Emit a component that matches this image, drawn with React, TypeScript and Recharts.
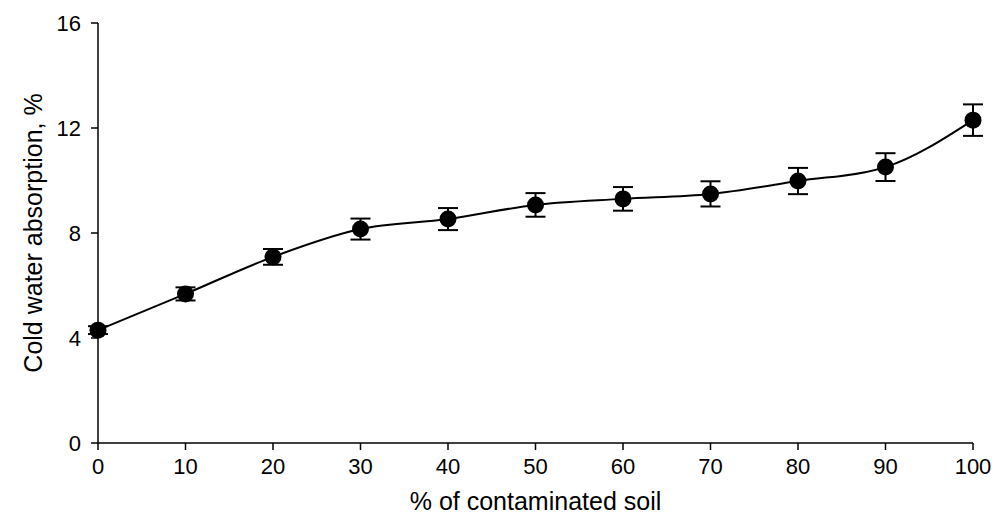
import React from 'react';
import { LineChart, Line, XAxis, YAxis, ErrorBar } from 'recharts';

const soilShare = [0, 10, 20, 30, 40, 50, 60, 70, 80, 90, 100];
const absorption = [4.3, 5.68, 7.09, 8.15, 8.53, 9.07, 9.3, 9.49, 9.98, 10.51, 12.3];
const errors = [0.15, 0.25, 0.3, 0.4, 0.42, 0.45, 0.45, 0.48, 0.5, 0.53, 0.6];
const xTicks = [0, 10, 20, 30, 40, 50, 60, 70, 80, 90, 100];
const yTicks = [0, 4, 8, 12, 16];

const data = soilShare.map((x, i) => ({ x, y: absorption[i], err: errors[i] }));

const font = '"Liberation Sans", Arial, sans-serif';

const XTick = (props: any) => {
  const { x, y, payload } = props;
  return (
    <text x={x} y={y + 22} textAnchor="middle" fontSize={22} fontFamily={font} fill="#000">
      {payload.value}
    </text>
  );
};

const YTick = (props: any) => {
  const { x, y, payload } = props;
  return (
    <text x={x - 2} y={y + 8} textAnchor="end" fontSize={22} fontFamily={font} fill="#000">
      {payload.value}
    </text>
  );
};

export default function App() {
  return (
    <div style={{ position: 'absolute', left: 0, top: 0, background: '#fff' }}>
      <LineChart
        width={1008}
        height={522}
        data={data}
        margin={{ top: 23, right: 35, left: 0, bottom: 0 }}
        style={{ fontFamily: font }}
      >
        <XAxis
          dataKey="x"
          type="number"
          domain={[0, 100]}
          ticks={xTicks}
          height={79}
          stroke="#000"
          strokeWidth={1.5}
          tickSize={7}
          tick={<XTick />}
          tickMargin={2}
          label={{ value: '% of contaminated soil', position: 'insideBottom', offset: 12, fill: '#000', fontSize: 25, fontFamily: font }}
        />
        <YAxis
          type="number"
          domain={[0, 16]}
          ticks={yTicks}
          width={98}
          stroke="#000"
          strokeWidth={1.5}
          tickSize={7}
          tickMargin={8}
          tick={<YTick />}
          label={{ value: 'Cold water absorption, %', angle: -90, position: 'insideLeft', offset: 33, fill: '#000', fontSize: 25, fontFamily: font, style: { textAnchor: 'middle' } }}
        />
        <Line
          dataKey="y"
          type="monotone"
          stroke="#000"
          strokeWidth={2}
          dot={{ r: 8.5, fill: '#000', stroke: '#000', strokeWidth: 0 }}
          isAnimationActive={false}
        >
          <ErrorBar dataKey="err" direction="y" width={10} stroke="#000" strokeWidth={2} />
        </Line>
      </LineChart>
    </div>
  );
}
